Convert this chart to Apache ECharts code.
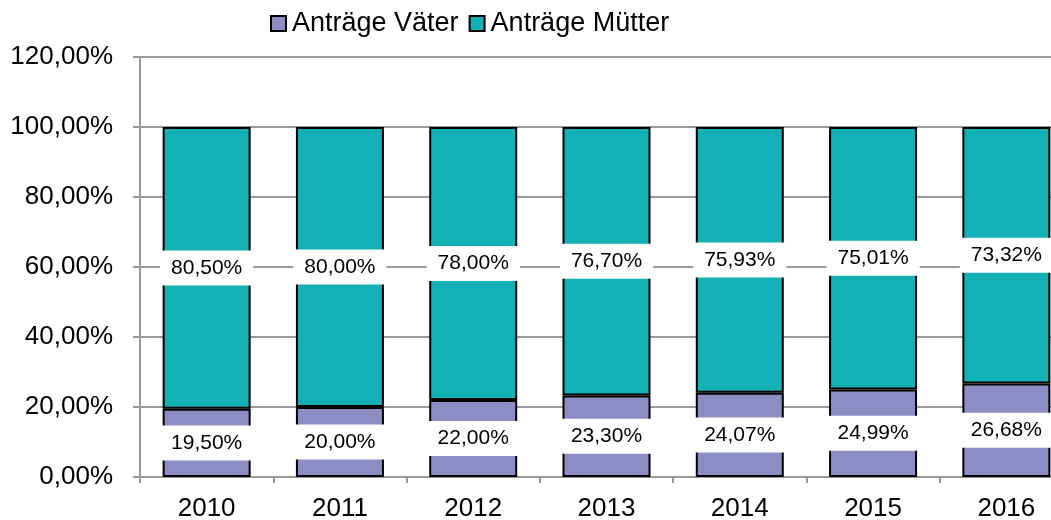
<!DOCTYPE html>
<html>
<head>
<meta charset="utf-8">
<script src="https://cdn.jsdelivr.net/npm/echarts@6/dist/echarts.min.js"></script>
<style>
  html, body { margin: 0; padding: 0; background: #fff; }
  #chart { width: 1051px; height: 520px; }
</style>
</head>
<body>
<div id="chart"></div>
<script>
// Years on the x axis
const years = ['2010', '2011', '2012', '2013', '2014', '2015', '2016'];
// Share of applications by fathers (%)
const antraegeVaeter = [19.50, 20.00, 22.00, 23.30, 24.07, 24.99, 26.68];
// Share of applications by mothers (%)
const antraegeMuetter = [80.50, 80.00, 78.00, 76.70, 75.93, 75.01, 73.32];
// Series names
const seriesNames = ['Anträge Väter', 'Anträge Mütter'];

const FONT = '"Liberation Sans", Arial, sans-serif';
const fmt = v => v.toFixed(2).replace('.', ',') + '%';

const labelStyle = {
  show: true,
  position: 'inside',
  formatter: p => fmt(p.value),
  color: '#000',
  fontFamily: FONT,
  fontSize: 21,
  lineHeight: 21,
  backgroundColor: '#fff',
  padding: [7, 11]
};

const chart = echarts.init(document.getElementById('chart'), null, { renderer: 'canvas' });
chart.setOption({
  animation: false,
  backgroundColor: '#fff',
  // the plot runs past the right edge of the canvas, so the last column is clipped
  grid: { left: 140, width: 933, top: 57, bottom: 43, containLabel: false, outerBoundsMode: 'none' },
  legend: {
    left: 270,
    top: 10,
    padding: 0,
    itemWidth: 15,
    itemHeight: 15,
    itemGap: 10,
    icon: 'rect',
    textStyle: { fontFamily: FONT, fontSize: 27, color: '#000', padding: [0, 0, 0, 1] },
    data: seriesNames
  },
  xAxis: {
    type: 'category',
    data: years,
    axisLine: { lineStyle: { color: '#999', width: 2 } },
    axisTick: { show: true, length: 6, alignWithLabel: false, lineStyle: { color: '#999', width: 2 } },
    axisLabel: { color: '#000', fontFamily: FONT, fontSize: 26, margin: 19 },
    splitLine: { show: false }
  },
  yAxis: {
    type: 'value',
    min: 0,
    max: 120,
    interval: 20,
    axisLine: { show: true, lineStyle: { color: '#999', width: 2 } },
    axisTick: { show: true, length: 7, lineStyle: { color: '#999', width: 2 } },
    axisLabel: { color: '#000', fontFamily: FONT, fontSize: 26, margin: 27, formatter: v => fmt(v) },
    splitLine: { show: true, lineStyle: { color: '#999', width: 2 } }
  },
  series: [
    {
      name: seriesNames[0],
      type: 'bar',
      stack: 'total',
      barWidth: 88,
      data: antraegeVaeter,
      itemStyle: { color: '#8c8dc4', borderColor: '#000', borderWidth: 2 },
      label: labelStyle
    },
    {
      name: seriesNames[1],
      type: 'bar',
      stack: 'total',
      barWidth: 88,
      data: antraegeMuetter,
      itemStyle: { color: '#13b0b5', borderColor: '#000', borderWidth: 2 },
      label: labelStyle
    }
  ]
});
</script>
</body>
</html>
